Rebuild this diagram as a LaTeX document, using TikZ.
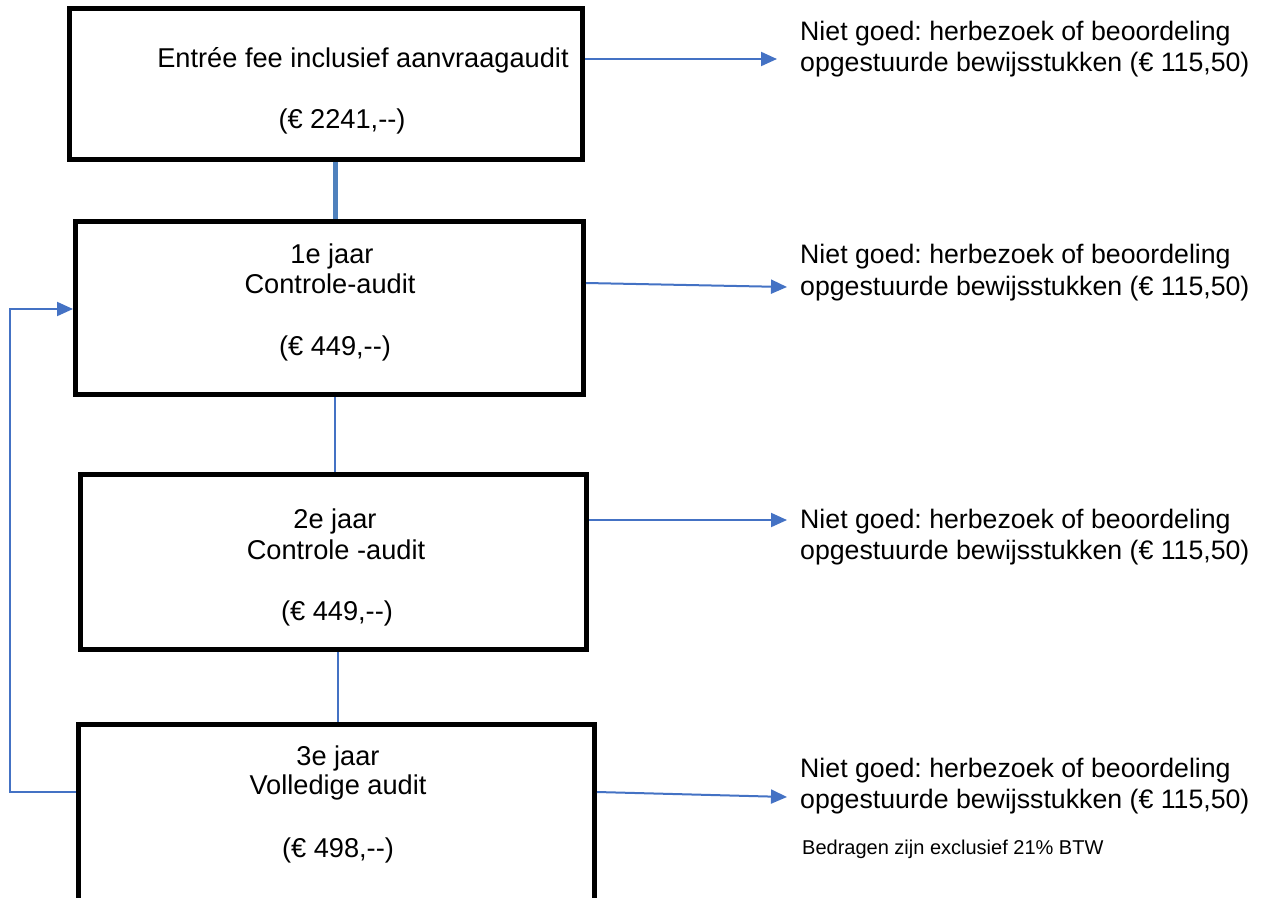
\documentclass[tikz,border=0pt]{standalone}
\usepackage{fontspec}
\setmainfont{Liberation Sans}
\usetikzlibrary{arrows.meta}
\definecolor{lnblue}{HTML}{4472C4}
\definecolor{thickblue}{HTML}{4F81BD}
\frenchspacing
\newcommand{\dd}{{-}{-}}
\begin{document}
\begin{tikzpicture}[x=1pt,y=-1pt]
\tikzset{
 box/.style={draw=black, line width=5pt, inner sep=0pt},
 lbl/.style={font=\fontsize{27.2}{31}\selectfont, inner sep=0pt, anchor=base},
 rlbl/.style={font=\fontsize{26.7}{31}\selectfont, inner sep=0pt, anchor=base west},
 notelbl/.style={font=\fontsize{20}{24}\selectfont, inner sep=0pt, anchor=base west},
 link/.style={draw=lnblue, line width=2pt},
 arr/.style={link, -{Triangle[length=16pt,width=14pt]}},
 thicklink/.style={draw=thickblue, line width=5pt},
}
\useasboundingbox (0,0) rectangle (1263,897);
\clip (0,0) rectangle (1263,897);

% boxes
\node[box, minimum width=513pt, minimum height=151pt] (b1) at (326,84) {};
\node[box, minimum width=508pt, minimum height=173pt] (b2) at (329.5,308) {};
\node[box, minimum width=506pt, minimum height=175pt] (b3) at (333.5,562) {};
\node[box, minimum width=516pt, minimum height=185pt] (b4) at (336.5,817) {};

% box texts
\node[lbl] (b1t1) at (363,67) {Entrée fee inclusief aanvraagaudit};
\node[lbl] (b1t2) at (342,128) {(€ 2241,\dd)};
\node[lbl] (b2t1) at (332,263) {1e jaar};
\node[lbl] (b2t2) at (330,293) {Controle-audit};
\node[lbl] (b2t3) at (335,355) {(€ 449,\dd)};
\node[lbl] (b3t1) at (335,528) {2e jaar};
\node[lbl] (b3t2) at (336,559) {Controle -audit};
\node[lbl] (b3t3) at (337,620) {(€ 449,\dd)};
\node[lbl] (b4t1) at (338,765) {3e jaar};
\node[lbl] (b4t2) at (338,794) {Volledige audit};
\node[lbl] (b4t3) at (338,857) {(€ 498,\dd)};

% right labels
\node[rlbl] (r1a) at (800,40) {Niet goed: herbezoek of beoordeling};
\node[rlbl] (r1b) at (800,71) {opgestuurde bewijsstukken (€ 115,50)};
\node[rlbl] (r2a) at (800,263) {Niet goed: herbezoek of beoordeling};
\node[rlbl] (r2b) at (800,295) {opgestuurde bewijsstukken (€ 115,50)};
\node[rlbl] (r3a) at (800,528) {Niet goed: herbezoek of beoordeling};
\node[rlbl] (r3b) at (800,559) {opgestuurde bewijsstukken (€ 115,50)};
\node[rlbl] (r4a) at (800,777) {Niet goed: herbezoek of beoordeling};
\node[rlbl] (r4b) at (800,808) {opgestuurde bewijsstukken (€ 115,50)};
\node[notelbl] (note) at (802,854) {Bedragen zijn exclusief 21\% BTW};

% vertical connectors
\coordinate (c1) at (335,0);
\coordinate (c2) at (335,0);
\coordinate (c3) at (338,0);
\draw[thicklink] (b1.south -| c1) -- (b2.north -| c1);
\draw[link] (b2.south -| c2) -- (b3.north -| c2);
\draw[link] (b3.south -| c3) -- (b4.north -| c3);

% right arrows
\coordinate (t1) at (777,59);
\coordinate (s2) at (0,283);
\coordinate (t2) at (787,287);
\coordinate (t3) at (787,520);
\coordinate (s4) at (0,792);
\coordinate (t4) at (787,797);
\draw[arr] (b1.east |- t1) -- (t1);
\draw[arr] (b2.east |- s2) -- (t2);
\draw[arr] (b3.east |- t3) -- (t3);
\draw[arr] (b4.east |- s4) -- (t4);

% loop back
\coordinate (lp) at (9.5,0);
\coordinate (a2) at (0,309);
\draw[arr] (b4.west |- s4) -- (lp |- s4) -- (lp |- a2) -- (b2.west |- a2);
\end{tikzpicture}
\end{document}
